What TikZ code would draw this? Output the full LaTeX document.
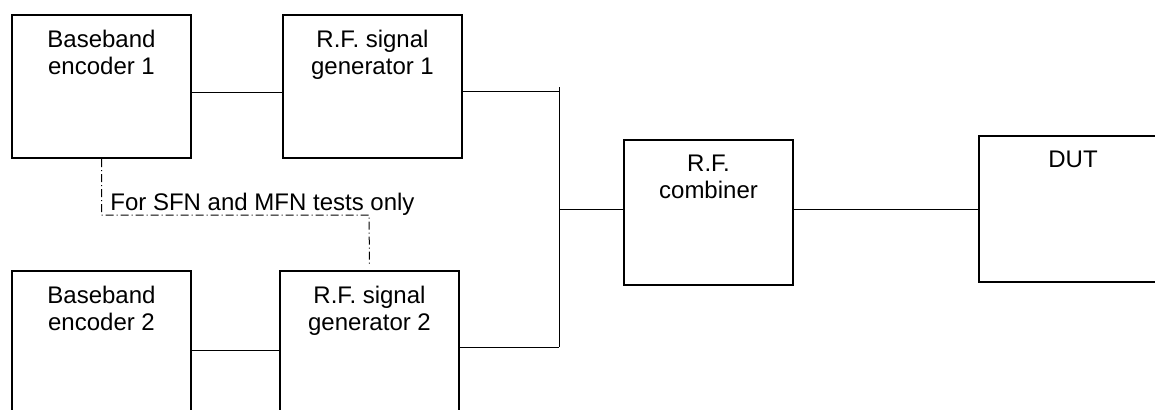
\documentclass[tikz,border=0pt]{standalone}
\usepackage{fontspec}
\setmainfont{Liberation Sans}
\usepackage{tikz}

\tikzset{
    unit/.style={thick, draw, rectangle, line width=1pt, inner sep=0pt},
    unittext/.style={anchor=north, align=center, yshift=-4.5pt, font=\fontsize{12}{13.5}\selectfont},
    wire/.style={line width=0.5pt},
    link/.style={line width=0.5pt, dash pattern=on 4pt off 1.5pt on 0.5pt off 1.5pt},
}

\begin{document}
\begin{tikzpicture}[x=0.5pt, y=-0.5pt]
    \clip (0, 0) rectangle (1155, 409);

    \node[unit, minimum width=89.5pt, minimum height=71.5pt, label={[unittext]north:{Baseband\\encoder 1}}] at (101.5, 86.5) (encTop) {};
    \node[unit, minimum width=89.5pt, minimum height=71.5pt, label={[unittext]north:{R.F. signal\\generator 1}}] at (372.5, 86.5) (genTop) {};
    \node[unit, minimum width=89.5pt, minimum height=71.5pt, label={[unittext]north:{Baseband\\encoder 2}}] at (101.5, 342.5) (encBot) {};
    \node[unit, minimum width=89.5pt, minimum height=71.5pt, label={[unittext]north:{R.F. signal\\generator 2}}] at (369.5, 342.5) (genBot) {};
    \node[unit, minimum width=84.5pt, minimum height=72.5pt, label={[unittext]north:{R.F.\\combiner}}] at (708.5, 212.5) (comb) {};
    \node[unit, minimum width=94pt, minimum height=73pt, label={[unittext]north:{DUT}}] at (1073, 209) (dut) {};

    \coordinate (busTop) at (559, 87);
    \coordinate (busMid) at (559, 209);
    \coordinate (busBot) at (559, 347);
    \coordinate (linkTurn) at (369, 215);

    \draw[wire] ([yshift=-3pt]encTop.east) -- ([yshift=-3pt]genTop.west);
    \draw[wire] ([yshift=-2.25pt]genTop.east) -- ([yshift=-2.25pt]genTop.east -| busTop);
    \draw[wire] (busTop) -- (busBot);
    \draw[wire] ([yshift=-2.25pt]genBot.east) -- (busBot);
    \draw[wire] ([yshift=-3.75pt]encBot.east) -- ([yshift=-3.75pt]genBot.west);
    \draw[wire] (busMid) -- (busMid -| comb.west);
    \draw[wire] (busMid -| comb.east) -- (dut.west);

    \draw[link] (encTop.south) |- (linkTurn) -- ([yshift=2pt]genBot.north);
    \node[anchor=base west, inner sep=0pt, font=\fontsize{12}{13.5}\selectfont] at (110, 210) (linkText) {For SFN and MFN tests only};
\end{tikzpicture}
\end{document}
